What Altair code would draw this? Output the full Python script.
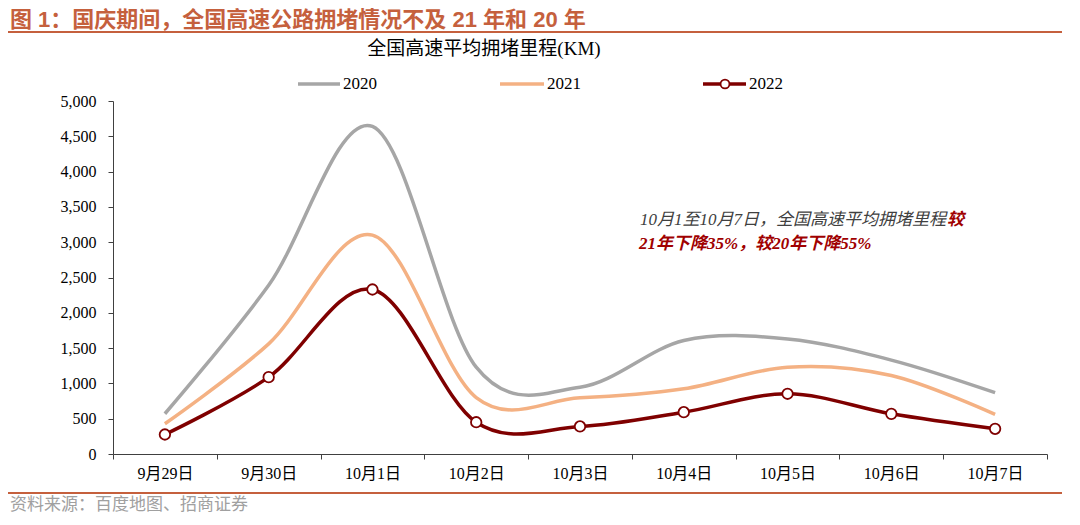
import altair as alt
import pandas as pd

dates = ["9月29日", "9月30日", "10月1日", "10月2日", "10月3日", "10月4日", "10月5日", "10月6日", "10月7日"]
years = ["2020", "2021", "2022"]
v2020 = [570, 2390, 4640, 1230, 946, 1608, 1630, 1330, 868]
v2021 = [428, 1560, 3100, 800, 796, 923, 1230, 1112, 560]
v2022 = [276, 1088, 2330, 450, 390, 592, 853, 569, 357]
y_ticks = list(range(0, 5001, 500))
colors = ["#A6A6A6", "#F4B183", "#7F0000"]

rows = []
for yr, vals in zip(years, [v2020, v2021, v2022]):
    for d, v in zip(dates, vals):
        rows.append({"date": d, "year": yr, "value": v})
df = pd.DataFrame(rows)

W, H = 934, 353
SERIF = "Liberation Serif, Noto Sans CJK SC"
ACCENT = "#C5603D"
DARKRED = "#7F0000"

x = alt.X("date:N", sort=dates,
          scale=alt.Scale(type="band", paddingInner=0, paddingOuter=0),
          axis=alt.Axis(title=None, labelAngle=0, tickBand="extent", tickSize=5,
                        labelPadding=6, labelFont=SERIF, labelFontSize=16,
                        labelColor="#000000", domainColor="#404040", tickColor="#404040",
                        grid=False))
y = alt.Y("value:Q", scale=alt.Scale(domain=[0, 5000], nice=False),
          axis=alt.Axis(title=None, values=y_ticks, format=",.0f", tickSize=5,
                        labelPadding=12, labelFont=SERIF, labelFontSize=16,
                        labelColor="#000000", domainColor="#404040", tickColor="#404040",
                        grid=False))
color = alt.Color("year:N", scale=alt.Scale(domain=years, range=colors), legend=None)

lines = alt.Chart(df).mark_line(interpolate="cardinal", strokeWidth=3.5).encode(
    x=x, y=y, color=color, detail="year:N")
points = alt.Chart(df).transform_filter(alt.datum.year == "2022").mark_point(
    shape="circle", fill="white", fillOpacity=1, stroke=DARKRED, strokeWidth=1.8,
    size=110, opacity=1).encode(x=x, y=y)


def one():
    return alt.Chart(alt.Data(values=[{}]))


def text(t, px, py, **kw):
    return one().mark_text(text=t, **kw).encode(x=alt.value(px), y=alt.value(py))


def hline(x1, x2, py, c, w):
    return one().mark_rule(color=c, strokeWidth=w).encode(
        x=alt.value(x1), x2=alt.value(x2), y=alt.value(py))


title = text("图 1：国庆期间，全国高速公路拥堵情况不及 21 年和 20 年", -103, -81,
             align="left", baseline="middle", font="Liberation Sans, Noto Sans CJK SC",
             fontSize=22, fontWeight="bold", color=ACCENT)
top_rule = hline(-105, 949, -69, ACCENT, 2)
bottom_rule = hline(-105, 949, 392, ACCENT, 2)
source = text("资料来源：百度地图、招商证券", -103, 404, align="left", baseline="middle",
              font="Noto Sans CJK SC", fontSize=17, color="#A0A0A0")
chart_title = text("全国高速平均拥堵里程(KM)", 371, -52, align="center", baseline="middle",
                   font=SERIF, fontSize=19, color="#000000")

leg = []
for (x1, x2, lx), yr, c in zip([(185, 227, 230), (387, 431, 434), (590, 633, 636)], years, colors):
    leg.append(hline(x1, x2, -17, c, 3.5))
    leg.append(text(yr, lx, -17, align="left", baseline="middle", font=SERIF,
                    fontSize=17, color="#000000"))
leg.append(one().mark_point(shape="circle", fill="white", fillOpacity=1, stroke=DARKRED,
                            strokeWidth=1.8, size=80, opacity=1).encode(
    x=alt.value(612), y=alt.value(-17)))

ann1 = text("10月1至10月7日，全国高速平均拥堵里程", 833, 119, align="right", baseline="middle",
            font=SERIF, fontSize=17, fontStyle="italic", color="#404040")
ann1b = text("较", 834, 119, align="left", baseline="middle", font=SERIF, fontSize=17,
             fontStyle="italic", fontWeight="bold", color="#A00000")
ann2 = text("21年下降35%，较20年下降55%", 526, 143, align="left", baseline="middle",
            font=SERIF, fontSize=17, fontStyle="italic", fontWeight="bold", color="#A00000")

chart = alt.layer(
    lines, points, title, top_rule, bottom_rule, source, chart_title, *leg, ann1, ann1b, ann2
).properties(
    width=W, height=H,
    padding={"left": 105, "top": 93, "right": 20, "bottom": 62},
    autosize=alt.AutoSizeParams(type="none"),
).configure_view(stroke=None)

chart.save("out.html", embed_options={"renderer": "svg", "actions": False})
